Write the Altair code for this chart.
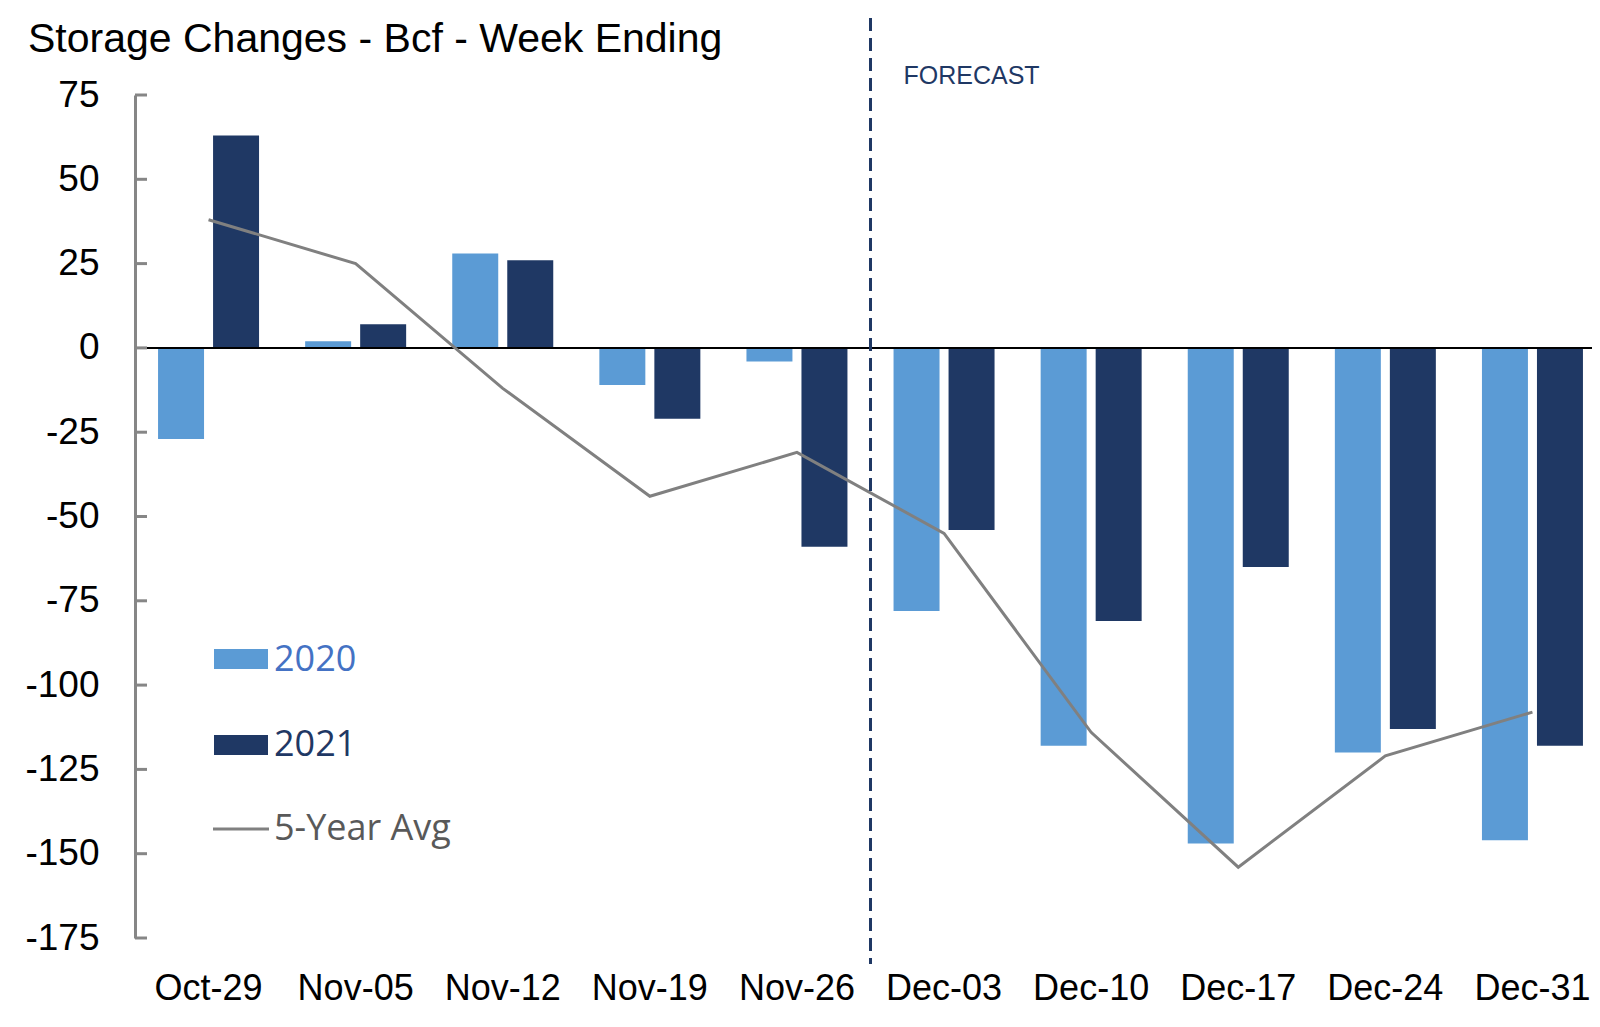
import altair as alt
import pandas as pd

weeks = ["Oct-29", "Nov-05", "Nov-12", "Nov-19", "Nov-26",
         "Dec-03", "Dec-10", "Dec-17", "Dec-24", "Dec-31"]
vals_2020 = [-27, 2, 28, -11, -4, -78, -118, -147, -120, -146]
vals_2021 = [63, 7, 26, -21, -59, -54, -81, -65, -113, -118]
avg_5yr = [38, 25, -12, -44, -31, -55, -114, -154, -121, -108]
y_ticks = [75, 50, 25, 0, -25, -50, -75, -100, -125, -150, -175]
series = ["2020", "2021"]
forecast_start = "Dec-03"
title_text = "Storage Changes - Bcf - Week Ending"

C2020 = "#5B9BD5"
C2021 = "#1F3864"
CAVG = "#808080"
FONT = "Liberation Sans"

bars_df = pd.DataFrame({
    "week": weeks * 2,
    "year": ["2020"] * len(weeks) + ["2021"] * len(weeks),
    "value": vals_2020 + vals_2021,
})
avg_df = pd.DataFrame({"week": weeks, "value": avg_5yr})
ticks_df = pd.DataFrame({"value": y_ticks})
fc_df = pd.DataFrame({"week": [forecast_start], "label": ["FORECAST"]})

W, H = 1471, 843

x_scale = alt.Scale(paddingInner=0, paddingOuter=0)
x_enc = alt.X("week:N", sort=weeks, scale=x_scale,
              axis=alt.Axis(title=None, labelAngle=0, domain=False, ticks=False,
                            labelFont=FONT, labelFontSize=36, labelColor="black",
                            labelPadding=33, labelBaseline="top"))
y_scale = alt.Scale(domain=[-175, 75], nice=False, zero=False)

bars = alt.Chart(bars_df).mark_bar().encode(
    x=x_enc,
    xOffset=alt.XOffset("year:N", sort=series,
                        scale=alt.Scale(paddingInner=0.164, paddingOuter=0.419)),
    y=alt.Y("value:Q", scale=y_scale,
            axis=alt.Axis(values=y_ticks, title=None, grid=False, tickSize=0,
                          labelPadding=36, domainColor="#868686", domainWidth=3,
                          labelFont=FONT, labelFontSize=37, labelColor="black",
                          labelExpr="replace(datum.label, '\u2212', '-')")),
    color=alt.Color("year:N", scale=alt.Scale(domain=series, range=[C2020, C2021]),
                    legend=None),
)

zero = alt.Chart(pd.DataFrame({"z": [0]})).mark_rule(color="black", strokeWidth=2).encode(
    y=alt.Y("z:Q", scale=y_scale)
)

inner_ticks = alt.Chart(ticks_df).mark_rule(color="#868686", strokeWidth=3).encode(
    y=alt.Y("value:Q", scale=y_scale), x=alt.value(0), x2=alt.value(12)
)

line = alt.Chart(avg_df).mark_line(color=CAVG, strokeWidth=3).encode(
    x=alt.X("week:N", sort=weeks, scale=x_scale),
    y=alt.Y("value:Q", scale=y_scale),
)

fc_rule = alt.Chart(fc_df).mark_rule(color=C2021, strokeWidth=3, strokeDash=[13, 7]).encode(
    x=alt.X("week:N", sort=weeks, bandPosition=0, scale=x_scale),
    y=alt.value(-77), y2=alt.value(869),
)
fc_text = alt.Chart(fc_df).mark_text(font=FONT, fontSize=25, color=C2021, align="left",
                                     baseline="middle", dx=33).encode(
    x=alt.X("week:N", sort=weeks, bandPosition=0, scale=x_scale),
    y=alt.value(-19), text="label:N",
)

title = alt.Chart(pd.DataFrame({"label": [title_text]})).mark_text(
    font=FONT, fontSize=41, color="black", align="left", baseline="alphabetic").encode(
    x=alt.value(-107), y=alt.value(-43), text="label:N")

# manual legend
def swatch(color, y0):
    return alt.Chart(pd.DataFrame({"a": [0]})).mark_rect(color=color).encode(
        x=alt.value(79), x2=alt.value(133), y=alt.value(y0), y2=alt.value(y0 + 20))

def leg_text(label, color, yc):
    return alt.Chart(pd.DataFrame({"label": [label]})).mark_text(
        font="Open Sans", fontSize=36, color=color, align="left", baseline="middle").encode(
        x=alt.value(139), y=alt.value(yc), text="label:N")

leg_line = alt.Chart(pd.DataFrame({"a": [0]})).mark_rule(color=CAVG, strokeWidth=3).encode(
    x=alt.value(78), x2=alt.value(134), y=alt.value(734))

legend = (swatch(C2020, 554) + leg_text("2020", "#4472C4", 565)
          + swatch(C2021, 640) + leg_text("2021", C2021, 650)
          + leg_line + leg_text("5-Year Avg", "#595959", 734))

chart = alt.layer(
    bars, zero, inner_ticks, line, fc_rule, fc_text, title, legend
).properties(
    width=W, height=H,
    background="white",
    autosize=alt.AutoSizeParams(type="none"),
    padding={"left": 127, "top": 87, "right": -14, "bottom": 70},
).configure_view(stroke=None).configure_axis(grid=False)

chart.save("out.html", embed_options={"renderer": "svg", "actions": False})
